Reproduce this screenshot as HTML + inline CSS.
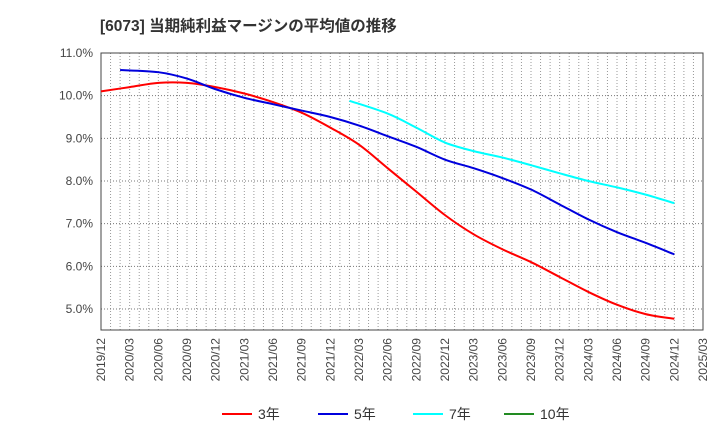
<!DOCTYPE html>
<html><head><meta charset="utf-8"><style>
body{margin:0;background:#fff;font-family:"Liberation Sans","Noto Sans CJK JP",sans-serif}
</style></head><body>
<svg id="c" width="720" height="440" xmlns="http://www.w3.org/2000/svg">
<text x="100" y="31" font-size="15.5" font-weight="bold" fill="#333">[6073]  当期純利益マージンの平均値の推移</text>
</svg>
<script>
const xLabels=["2019/12","2020/03","2020/06","2020/09","2020/12","2021/03","2021/06","2021/09","2021/12","2022/03","2022/06","2022/09","2022/12","2023/03","2023/06","2023/09","2023/12","2024/03","2024/06","2024/09","2024/12","2025/03"];
const yTicks=[5,6,7,8,9,10,11];
const s3Months=[0,3,6,9,12,15,18,21,24,27,30,33,36,39,42,45,48,51,54,57,60];
const s3=[10.1,10.2,10.3,10.3,10.2,10.05,9.85,9.6,9.25,8.85,8.3,7.75,7.2,6.75,6.4,6.1,5.75,5.4,5.1,4.88,4.77];
const s5Months=[2,6,9,12,15,18,21,24,27,30,33,36,39,42,45,48,51,54,57,60];
const s5=[10.6,10.55,10.4,10.15,9.95,9.8,9.65,9.5,9.3,9.05,8.8,8.5,8.3,8.07,7.8,7.45,7.1,6.8,6.55,6.28];
const s7Months=[26,30,33,36,39,42,45,48,51,54,57,60];
const s7=[9.88,9.58,9.25,8.9,8.7,8.55,8.37,8.18,8.0,7.85,7.68,7.48];
const s10Months=[];
const s10=[];
const L=101,R=703,T=53,B=330;
const NM=(xLabels.length-1)*3;
const XM=m=>L+m*(R-L)/NM;
const X=i=>XM(i*3);
const Y=v=>309-(v-5)*42.67;
const svg=document.getElementById('c');
const NS="http://www.w3.org/2000/svg";
function mk(t,a){const e=document.createElementNS(NS,t);for(const k in a)e.setAttribute(k,a[k]);svg.appendChild(e);return e;}
for(let m=0;m<=NM;m++){const x=XM(m);
const g=mk('line',{x1:x,x2:x,y1:T,y2:B,stroke:'#999','stroke-dasharray':'1,2','stroke-width':1});

}
yTicks.forEach(v=>{const g=mk('line',{x1:L,x2:R,y1:Y(v),y2:Y(v),stroke:'#777','stroke-dasharray':'1,2'});


const t=mk('text',{x:L-8,y:Y(v)+4,'text-anchor':'end','font-size':12,fill:'#444'});t.textContent=v.toFixed(1)+'%';

});
const fr=mk('rect',{x:L,y:T,width:R-L,height:B-T,fill:'none',stroke:'#444'});


xLabels.forEach((l,i)=>{const t=mk('text',{transform:`translate(${X(i)+4},${B+8}) rotate(-90)`,'text-anchor':'end','font-size':12,fill:'#444'});t.textContent=l;

});
function path(ms,s,col,name){const p=s.map((v,i)=>[XM(ms[i]),Y(v)]);if(p.length<2)return;
let d=`M${p[0][0]},${p[0][1]}`;for(let i=0;i<p.length-1;i++){const p0=p[i-1]||p[i],p1=p[i],p2=p[i+1],p3=p[i+2]||p2;
d+=` C${p1[0]+(p2[0]-p0[0])/6},${p1[1]+(p2[1]-p0[1])/6} ${p2[0]-(p3[0]-p1[0])/6},${p2[1]-(p3[1]-p1[1])/6} ${p2[0]},${p2[1]}`;}
const e=mk('path',{d,fill:'none',stroke:col,'stroke-width':2});

}
path(s3Months,s3,'#ff0000','series-3y');path(s5Months,s5,'#0000dd','series-5y');path(s7Months,s7,'#00ffff','series-7y');path(s10Months,s10,'#228b22','series-10y');
[['3年','#ff0000',222],['5年','#0000dd',318],['7年','#00ffff',413],['10年','#228b22',504]].forEach(([n,c,x])=>{
const l=mk('line',{x1:x,x2:x+30,y1:414,y2:414,stroke:c,'stroke-width':2});


const t=mk('text',{x:x+36,y:419,'font-size':14,fill:'#333'});t.textContent=n;

});
</script>
</body></html>
